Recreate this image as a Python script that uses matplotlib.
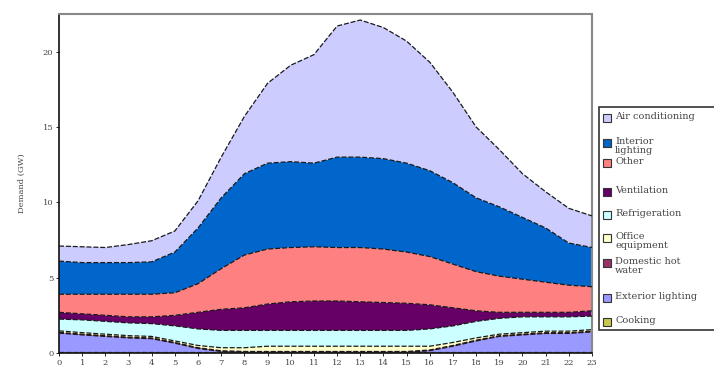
import matplotlib
matplotlib.use("Agg")
import matplotlib.pyplot as plt
from matplotlib.patches import Rectangle
import numpy as np

hours = list(range(24))

# bottom -> top stacking order
cooking = [0.05]*24
exterior_lighting = [1.27, 1.15, 1.05, 0.95, 0.90, 0.60, 0.25, 0.05, 0.0, 0.0, 0.0, 0.0,
                     0.0, 0.0, 0.0, 0.0, 0.10, 0.40, 0.75, 1.05, 1.15, 1.25, 1.25, 1.35]
domestic_hot_water = [0.05]*24
office_equipment = [0.10, 0.10, 0.10, 0.10, 0.10, 0.10, 0.15, 0.20, 0.25, 0.35, 0.35, 0.35,
                    0.35, 0.35, 0.35, 0.35, 0.25, 0.20, 0.15, 0.10, 0.10, 0.10, 0.10, 0.10]
refrigeration = [0.78, 0.85, 0.85, 0.85, 0.85, 1.00, 1.10, 1.15, 1.15, 1.05, 1.05, 1.05,
                 1.05, 1.05, 1.05, 1.05, 1.15, 1.10, 1.10, 1.05, 1.05, 0.95, 0.95, 0.90]
ventilation = [0.45, 0.40, 0.40, 0.40, 0.45, 0.70, 1.10, 1.40, 1.50, 1.75, 1.90, 1.95,
               1.95, 1.90, 1.85, 1.80, 1.60, 1.20, 0.70, 0.40, 0.30, 0.30, 0.30, 0.35]
other = [1.20, 1.30, 1.40, 1.50, 1.50, 1.50, 1.90, 2.70, 3.50, 3.65, 3.60, 3.60,
         3.55, 3.60, 3.55, 3.40, 3.20, 2.90, 2.60, 2.40, 2.20, 2.00, 1.80, 1.60]
interior_lighting = [2.20, 2.10, 2.10, 2.10, 2.15, 2.70, 3.70, 4.70, 5.40, 5.70, 5.70, 5.55,
                     6.00, 6.00, 6.00, 5.90, 5.70, 5.40, 4.90, 4.60, 4.10, 3.60, 2.80, 2.60]
air_conditioning = [1.00, 1.05, 1.00, 1.20, 1.40, 1.40, 1.80, 2.70, 3.80, 5.30, 6.40, 7.20,
                    8.70, 9.10, 8.70, 8.10, 7.20, 6.00, 4.70, 3.80, 2.90, 2.40, 2.30, 2.10]

series_labels = ["Cooking", "Exterior lighting", "Domestic hot\nwater", "Office\nequipment",
                 "Refrigeration", "Ventilation", "Other", "Interior\nlighting", "Air conditioning"]
series_colors = ["#C8C850", "#9999FF", "#993366", "#FFFFCC", "#CCFFFF",
                 "#660066", "#FF8080", "#0066CC", "#CCCCFF"]
series = [cooking, exterior_lighting, domestic_hot_water, office_equipment, refrigeration,
          ventilation, other, interior_lighting, air_conditioning]

yticks = [0, 5, 10, 15, 20]
ylabel = "Demand (GW)"

serif = ["DejaVu Serif"]

fig = plt.figure(figsize=(7.14, 3.70), dpi=100)
ax = fig.add_axes([59/714, 17/370, (592-59)/714, (353-14)/370])

x = np.array(hours)
base = np.zeros(24)
for vals, col in zip(series, series_colors):
    top = base + np.array(vals)
    ax.fill_between(x, base, top, facecolor=col, edgecolor="none", zorder=2)
    ax.plot(x, top, color="#1a1a1a", lw=0.9, ls=(0, (4, 1.5)), zorder=3)
    base = top

ax.set_xlim(0, 23)
ax.set_ylim(0, 22.5)
ax.set_xticks(hours)
ax.set_xticklabels([str(h) for h in hours], fontsize=6, family=serif, color="#444444")
ax.set_yticks(yticks)
ax.set_yticklabels([str(v) for v in yticks], fontsize=6, family=serif, color="#444444")
ax.tick_params(length=2, width=0.6, pad=2)
ax.set_ylabel(ylabel, fontsize=6, family=serif, color="#444444", labelpad=12)

for s in ["left", "bottom"]:
    ax.spines[s].set_color("#111111")
    ax.spines[s].set_linewidth(1.2)
for s in ["top", "right"]:
    ax.spines[s].set_color("#888888")
    ax.spines[s].set_linewidth(1.5)

# legend drawn in figure pixel coords
W, H = 714, 370
def fx(px): return px / W
def fy(py): return 1 - py / H

fig.patches.append(Rectangle((fx(599), fy(330)), fx(140), (330-107)/H, transform=fig.transFigure,
                             facecolor="white", edgecolor="#333333", lw=1.2, zorder=1))
leg_order = [8, 7, 6, 5, 4, 3, 2, 1, 0]
leg_y = [118, 143, 163, 192, 215, 238, 263, 298, 322]
for idx, py in zip(leg_order, leg_y):
    fig.patches.append(Rectangle((fx(603), fy(py + 4)), fx(8), 8/H, transform=fig.transFigure,
                                 facecolor=series_colors[idx], edgecolor="#333333", lw=0.8, zorder=2))
    fig.text(fx(615), fy(py - 6), series_labels[idx], fontsize=7, family=serif, color="#444444",
             va="top", ha="left", linespacing=1.0, zorder=3)

fig.savefig("out.png", dpi=100)
